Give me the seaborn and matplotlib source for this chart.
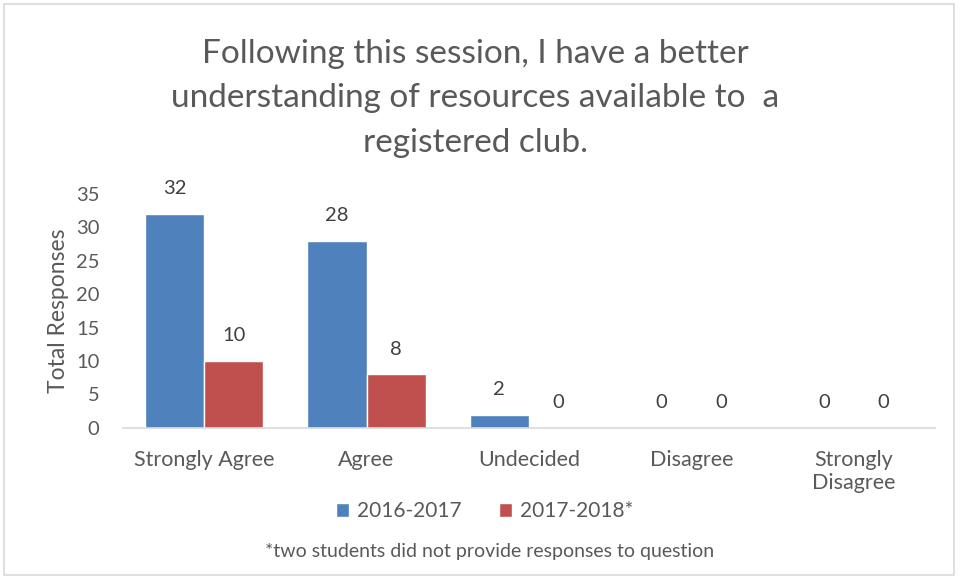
import matplotlib
matplotlib.use("Agg")
import matplotlib.pyplot as plt
from matplotlib.patches import Rectangle
import seaborn as sns
import pandas as pd

categories = ["Strongly Agree", "Agree", "Undecided", "Disagree", "Strongly\nDisagree"]
series_names = ["2016-2017", "2017-2018*"]
values_2016 = [32, 28, 2, 0, 0]
values_2017 = [10, 8, 0, 0, 0]
colors = ["#4F81BD", "#C0504D"]

df = pd.DataFrame({
    "Response": categories * 2,
    "Year": [series_names[0]] * len(categories) + [series_names[1]] * len(categories),
    "Count": values_2016 + values_2017,
})

sns.set_theme(style="white")
plt.rcParams["font.family"] = ["Lato", "DejaVu Sans"]
text_color = "#595959"

fig = plt.figure(figsize=(9.6, 5.79), dpi=100)
ax = fig.add_axes([0.128, 0.261, 0.846, 0.404])

sns.barplot(data=df, x="Response", y="Count", hue="Year", order=categories,
            hue_order=series_names, palette=colors, width=0.73,
            saturation=1, ax=ax, legend=False)

ax.set_ylim(0, 35)
ax.set_yticks(range(0, 36, 5))
ax.set_xlim(-0.5, len(categories) - 0.5)
for side in ["top", "right", "left"]:
    ax.spines[side].set_visible(False)
ax.spines["bottom"].set_color("#D9D9D9")
ax.spines["bottom"].set_linewidth(1.2)
ax.tick_params(axis="both", length=0, colors=text_color)
ax.tick_params(axis="x", pad=16, labelsize=15.5)
ax.tick_params(axis="y", pad=17, labelsize=14.5)
ax.set_xlabel("")
ax.set_ylabel("Total Responses", fontsize=16.5, color=text_color, labelpad=5)

for container in ax.containers:
    ax.bar_label(container, fmt="%d", padding=12, fontsize=14.5, color="#404040")

fig.text(0.495, 0.83, "Following this session, I have a better\nunderstanding of resources available to  a\nregistered club.",
         ha="center", va="center", fontsize=24, color=text_color, linespacing=1.6)

handles = [Rectangle((0, 0), 1, 1, facecolor=c) for c in colors]
fig.legend(handles, series_names, loc="center", bbox_to_anchor=(0.505, 0.117), ncol=2,
           frameon=False, fontsize=15, labelcolor=text_color, handlelength=0.6,
           handleheight=0.6, handletextpad=0.4, columnspacing=1.8)

fig.text(0.51, 0.048, "*two students did not provide responses to question",
         ha="center", va="center", fontsize=14, color=text_color)

fig.patches.append(Rectangle((0.004, 0.007), 0.99, 0.986, transform=fig.transFigure,
                             fill=False, edgecolor="#D9D9D9", linewidth=1.2))

fig.savefig("out.png", dpi=100, facecolor="white")
